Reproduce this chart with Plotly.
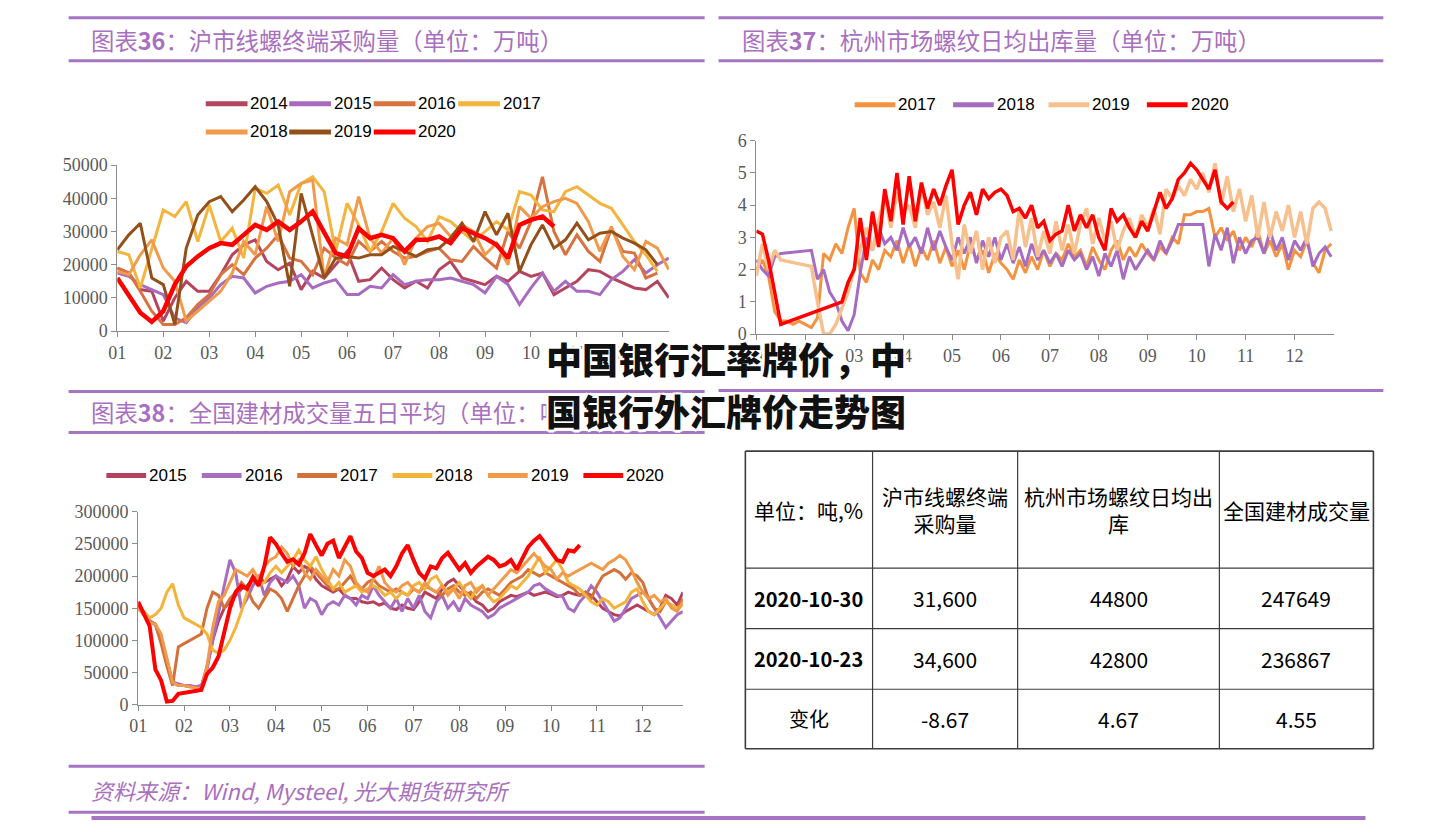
import numpy as np
import plotly.graph_objects as go

W, H = 1440, 830
PURPLE = "#A96FC0"
RULE = "#A675C2"
AXIS = "#8C8C8C"
TICK = "#595959"
CJK = "Noto Sans CJK SC"
NARROW = "Liberation Sans Narrow, Liberation Sans, sans-serif"
SERIF = "Liberation Serif, DejaVu Serif, serif"


def px(x):
    return x / W


def py(y):
    return 1 - y / H


months = ["01", "02", "03", "04", "05", "06", "07", "08", "09", "10", "11", "12"]

# ---- 图表36 沪市线螺终端采购量, weekly (4 per month), thousand tons
c36_2014 = [19, 17.5, 12.5, 12, 3, 10, 15, 12, 12, 17, 23, 26, 27.5, 21, 18.5, 20.5, 12.5, 18, 16, 20,
            24, 15, 15.5, 19, 15.5, 13, 15, 13, 18.5, 21, 16, 15, 14, 16.5, 15, 18, 16.5, 17.5, 11, 13,
            15, 18.5, 18, 16, 14.5, 13, 12.5, 15, 10]
c36_2015 = [17.5, 16.5, 14, 12.5, 11, 4, 2.5, 7, 10, 14, 16.5, 16, 11.5, 13.5, 14.5, 15, 17, 13, 14.5, 15.5,
            11, 11, 13.5, 13, 17, 14, 15, 15.5, 15.5, 16, 15, 14, 11.5, 16.5, 14, 8, 13, 17.5, 12, 15,
            12, 12, 11, 15.5, 18, 21.5, 17.5, 20, 22]
c36_2016 = [19, 17.5, 12, 6, 2, 2, 4, 8, 11, 17, 20, 17, 22, 25, 29, 22, 21, 17, 25, 22,
            20, 27, 24, 27, 24, 22, 22.5, 24, 25, 21.5, 21, 25.5, 22, 19, 30, 25, 33, 46.5, 30, 23,
            29, 24, 21, 31, 24, 23.5, 16, 17.5]
c36_2017 = [24, 23, 13, 25, 36.5, 34.5, 39, 27, 38, 27, 31, 22, 43, 41.5, 44, 35, 44.5, 46.5, 42, 24,
            38.5, 32, 24, 30, 38.5, 34, 31.5, 27, 34.5, 33, 30, 27, 30, 33, 30.5, 42, 41, 36.5, 36, 42,
            43.5, 41, 38.5, 37, 32, 27, 23, 18]
c36_2018 = [18, 17, 23, 27.5, 19, 15, 3, 6, 9, 12, 17.5, 27, 23, 37.5, 27, 42, 44.5, 45.5, 16, 28,
            26, 40.5, 28, 23.5, 28, 20, 28, 31.5, 32.5, 28.5, 32, 30, 23, 26.5, 20, 37.5, 34, 37.5, 39, 40,
            38.5, 33, 24, 31.5, 22.5, 18.5, 27, 25, 18.5]
c36_2019 = [24.5, 29, 32.5, 16, 14, 2, 25, 35, 39, 40.5, 36, 39.5, 43.5, 39, 32, 13.5, 41.5, 29, 16, 22,
            22.5, 22, 23, 23, 25.5, 24, 22.5, 24.5, 25, 28, 32.5, 27, 36, 29, 35.5, 18, 26, 32, 25, 27.5,
            32.5, 27.5, 29.5, 30, 28, 26.5, 24.5, 20]
c36_2020 = [16, 10.5, 5.5, 2.8, 6, 14, 19.5, 22.5, 25, 26.5, 26, 29, 32, 30.5, 33, 30.5, 33, 36, 30, 23.5,
            22.5, 31, 28, 29, 28, 24, 27.5, 27.5, 28.5, 26.5, 31, 29.5, 28, 26, 22, 32, 33.5, 34.5, 31.5]

# ---- 图表37 杭州市场螺纹日均出库量, 8 samples per month, None = no trading
c37_2017 = [2.0, 2.3, 1.8, 0.7, 0.4, 0.4, 0.3, 0.4,
            0.3, 0.2, 0.5, 2.5, 2.3, 2.8, 2.5, 3.3,
            3.9, 1.9, 1.6, 2.3, 2.0, 2.6, 2.4, 2.9,
            2.2, 2.8, 2.1, 2.7, 2.3, 2.9, 2.2, 2.7,
            2.1, 2.6, 2.0, 2.8, 2.3, 2.6, 1.9, 2.5,
            2.2, 2.0, 1.7, 2.3, 1.9, 2.4, 2.0, 2.6,
            2.1, 2.5, 2.3, 2.8, 2.4, 2.6, 2.1, 2.7,
            2.3, 2.0, 2.6, 2.9, 2.3, 2.7, 2.4, 2.8,
            2.5, 2.3, 2.7, 2.5, 3.0, 2.8, 3.7, 3.7,
            3.8, 3.8, 3.9, 3.0, 3.3, 2.9, 3.2, 2.6,
            3.0, 2.7, 3.2, 2.5, 2.9, 2.4, 2.8, 2.0,
            2.6, 2.4, 2.9, 2.2, 1.9, 2.6, 2.8]
c37_2018 = [2.3, 2.0, 1.8, 2.4, 2.5, None, None, None,
            None, 2.6, 1.7, 2.0, 1.3, 1.0, 0.4, 0.1,
            0.6, 1.9, 3.0, 2.6, 3.3, 2.8, 3.0, 2.6,
            3.3, 2.7, 3.0, 2.5, 3.3, 2.6, 3.2, 2.7,
            2.3, 3.0, 2.5, 3.0, 2.2, 2.9, 2.4, 3.0,
            2.3, 2.8, 2.2, 2.7, 2.1, 2.8, 2.3, 2.6,
            2.2, 2.5, 2.1, 2.6, 2.3, 2.5, 2.0, 2.4,
            1.8, 2.5, 2.1, 2.6, 1.7, 2.4, 2.0, 2.3,
            2.6, 2.3, 2.9, 2.5, 2.9, 3.4, 3.4, 3.4,
            3.4, 3.4, 2.1, 3.1, 2.6, 3.3, 2.2, 3.0,
            2.5, 2.9, 3.0, 2.5, 3.2, 2.6, 3.0, 2.3,
            2.9, 2.6, 3.0, 2.1, 2.5, 2.7, 2.4]
c37_2019 = [1.8, 2.8, 2.0, 2.6, 2.3, None, None, None,
            None, 2.1, 1.0, 0.0, 0.0, 0.3, 0.8, 1.3,
            2.0, 2.6, 3.3, 2.6, 3.5, 4.3, 3.3, 4.4,
            3.8, 4.0, 3.3, 4.6, 3.7, 4.1, 3.3, 4.3,
            2.8, 1.7, 3.4, 2.5, 3.2, 2.0, 3.0, 2.2,
            3.0, 3.2, 2.3, 3.9, 2.7, 3.6, 2.4, 3.2,
            2.5, 3.5, 2.6, 3.4, 2.5, 3.4, 3.9, 2.8,
            3.6, 2.9, 3.5, 2.6, 3.2, 3.6, 3.0, 3.7,
            3.3, 3.9, 3.1, 4.5, 4.2, 4.6, 4.3, 4.8,
            4.5, 5.0, 4.4, 5.3, 4.0, 4.9, 3.8, 4.5,
            3.5, 4.3, 3.0, 4.1, 3.0, 3.8, 3.2, 4.0,
            3.0, 3.8, 2.8, 3.9, 4.1, 3.9, 3.2]
c37_2020 = [3.2, 3.1, 2.3, 1.3, 0.3, None, None, None,
            None, None, None, None, None, None, 1.0, 1.6,
            2.0, 3.6, 2.3, 3.8, 2.7, 4.5, 3.5, 5.0,
            3.4, 4.9, 3.5, 4.7, 3.9, 4.5, 4.0, 4.6,
            5.1, 3.4, 4.0, 4.4, 3.7, 4.5, 4.2, 4.4,
            4.5, 4.3, 3.8, 3.9, 3.6, 4.0, 3.3, 3.5,
            2.9, 3.1, 3.2, 4.0, 3.2, 3.7, 3.3, 3.7,
            3.0, 2.6, 3.9, 3.5, 3.7, 3.3, 3.0, 3.5,
            3.2, 3.8, 4.4, 3.9, 4.2, 4.8, 5.0, 5.3,
            5.1, 4.8, 4.5, 5.1, 4.1, 3.9, 4.1]

# ---- 图表38 全国建材成交量五日平均, 8 samples per month, thousand tons
c38_2015 = [150, 140, 130, 125, 100, 70, 35, 30,
            30, 28, 27, 27, 60, 100, 130, 150,
            160, 170, 180, 185, 195, 200, 190, 195,
            200, 185, 195, 215, 205, 215, 210, 195,
            185, 180, 175, 180, 170, 165, 165, 160,
            158, 160, 155, 158, 150, 148, 155, 150,
            148, 160, 175, 170, 165, 180, 190, 195,
            185, 175, 170, 160, 155, 145, 150, 160,
            165, 170, 168, 172, 175, 170, 172, 175,
            172, 168, 170, 175, 172, 170, 175, 170,
            160, 150, 145, 140, 138, 145, 150, 155,
            150, 145, 140, 150, 170, 165, 155, 175]
c38_2016 = [155, 140, 130, 125, 100, 65, 35, 32,
            30, 30, 28, 30, 55, 100, 145, 185,
            225, 205, 150, 165, 185, 200, 170, 190,
            200, 195, 190, 200, 185, 150, 165, 160,
            140, 155, 160, 155, 170, 165, 155, 170,
            165, 185, 170, 160, 150, 165, 145, 165,
            150, 170, 145, 135, 160, 170, 150, 160,
            145, 165, 155, 150, 145, 135, 140, 150,
            155, 160, 165, 170, 175, 185, 188, 180,
            175, 170, 168, 150, 145, 160, 170, 185,
            175, 160, 145, 130, 135, 150, 165, 170,
            175, 165, 150, 135, 120, 130, 140, 145]
c38_2017 = [155, 140, 130, 125, 95, 60, 30, 90,
            95, 100, 105, 110, 150, 175, 170, 150,
            165, 175, 190, 180, 160, 150, 165, 180,
            175, 165, 145, 165, 185, 200, 215, 205,
            195, 185, 178, 180, 190, 200, 185, 180,
            190, 195, 185, 180, 175, 180, 175, 170,
            180, 175, 185, 180, 175, 170, 180, 185,
            175, 170, 175, 165, 175, 180, 175, 170,
            180, 190, 195, 200, 210, 205, 200, 205,
            200, 195, 190, 185, 180, 170, 175, 165,
            185, 200, 205, 210, 205, 195, 205, 200,
            190, 165, 150, 145, 160, 155, 150, 165]
c38_2018 = [150, 145, 135, 140, 150, 175, 188, 155,
            135, 130, 125, 120, 110, 85, 80, 85,
            100, 120, 145, 175, 200, 185, 190, 205,
            215, 205, 215, 225, 240, 225, 215, 230,
            210, 195, 180, 190, 175, 180, 185, 175,
            180, 185, 180, 170, 175, 165, 175, 170,
            185, 190, 180, 195, 200, 185, 175, 180,
            190, 175, 165, 180, 185, 170, 160, 165,
            175, 185, 180, 190, 200, 215, 230, 205,
            215, 225, 210, 190, 185, 180, 170, 160,
            155, 165, 160, 150, 155, 160, 175, 180,
            160, 145, 140, 150, 160, 155, 150, 155]
c38_2019 = [150, 140, 128, 125, 110, 70, 35, 30,
            30, 28, 27, 25, 60, 120, 160, 170,
            190, 210, 205, 200, 210, 195, 215, 225,
            230, 245, 235, 215, 225, 205, 195, 210,
            200, 190, 210, 200, 225, 215, 190, 180,
            175, 195, 215, 190, 180, 175, 185, 190,
            180, 175, 190, 180, 175, 185, 170, 180,
            165, 185, 190, 175, 185, 170, 180, 190,
            200, 210, 205, 215, 225, 235, 225, 215,
            210, 195, 205, 200, 205, 210, 215, 220,
            215, 210, 220, 225, 232, 225, 210, 190,
            175, 165, 170, 160, 165, 150, 145, 160]
c38_2020 = [160, 140, 122, 55, 38, 5, 6, 17,
            None, None, None, 23, 48, 58, 75, 115,
            150, 175, 185, 180, 198, 185, 215, 260,
            250, 235, 222, 226, 218, 235, 265, 248,
            232, 250, 255, 228, 245, 262, 238, 228,
            205, 200, 205, 210, 200, 215, 235, 248,
            225, 205, 196, 215, 212, 228, 236, 222,
            210, 220, 205, 215, 222, 230, 225, 215,
            218, 225, 210, 228, 245, 255, 262, 250,
            238, 225, 222, 240, 238, 248]

# ---- table
tbl_header = ["单位：吨,%", "沪市线螺终端<br>采购量", "杭州市场螺纹日均出<br>库", "全国建材成交量"]
tbl_dates = ["2020-10-30", "2020-10-23", "变化"]
tbl_c36 = ["31,600", "34,600", "-8.67"]
tbl_c37 = ["44800", "42800", "4.67"]
tbl_c38 = ["247649", "236867", "4.55"]

chart36 = [("2014", c36_2014, "#B5455F", 3), ("2015", c36_2015, "#A86BBE", 3),
           ("2016", c36_2016, "#D8733F", 3), ("2017", c36_2017, "#F3B53E", 3),
           ("2018", c36_2018, "#F29A4C", 3), ("2019", c36_2019, "#93501A", 3),
           ("2020", c36_2020, "#FF0000", 4.5)]
chart37 = [("2017", c37_2017, "#F4933F", 3), ("2018", c37_2018, "#A56CC1", 3),
           ("2019", c37_2019, "#F7C08F", 3.5), ("2020", c37_2020, "#FF0000", 3.5)]
chart38 = [("2015", c38_2015, "#B5405D", 3), ("2016", c38_2016, "#A86CC1", 3),
           ("2017", c38_2017, "#D4703A", 3), ("2018", c38_2018, "#F4B33A", 3),
           ("2019", c38_2019, "#F09A4A", 3), ("2020", c38_2020, "#FF0000", 4)]

fig = go.Figure()


def add_lines(series, xa, ya, step):
    for name, vals, color, width in series:
        fig.add_trace(go.Scatter(
            x=np.arange(len(vals)) * step, y=vals, name=name, mode="lines",
            line=dict(color=color, width=width), connectgaps=True,
            xaxis=xa, yaxis=ya, showlegend=False, hoverinfo="skip"))


add_lines(chart36, "x", "y", 0.25)
add_lines(chart37, "x2", "y2", 0.125)
add_lines(chart38, "x3", "y3", 0.125)

ax = dict(showgrid=False, zeroline=False, showline=True, linecolor=AXIS, linewidth=1,
          ticks="outside", ticklen=5, tickcolor=AXIS,
          tickfont=dict(family=SERIF, size=18, color=TICK))

fig.update_layout(
    autosize=True, margin=dict(l=0, r=0, t=0, b=0),
    paper_bgcolor="white", plot_bgcolor="white", showlegend=False,
    xaxis=dict(domain=[px(109), px(664)], range=[0, 12], tickvals=list(range(12)),
               ticktext=months, anchor="y", **ax),
    yaxis=dict(domain=[py(329), py(159)], range=[0, 50], tickvals=[0, 10, 20, 30, 40, 50],
               ticktext=["0", "10000", "20000", "30000", "40000", "50000"], anchor="x", **ax),
    xaxis2=dict(domain=[px(752), px(1333)], range=[0, 11.8], tickvals=list(range(12)),
                ticktext=months, anchor="y2", **ax),
    yaxis2=dict(domain=[py(332), py(134)], range=[0, 6], tickvals=list(range(7)),
                anchor="x2", **ax),
    xaxis3=dict(domain=[px(130), px(678)], range=[0, 11.87], tickvals=list(range(12)),
                ticktext=months, anchor="y3", **ax),
    yaxis3=dict(domain=[py(712), py(514)], range=[0, 300], tickvals=[0, 50, 100, 150, 200, 250, 300],
                ticktext=["0", "50000", "100000", "150000", "200000", "250000", "300000"],
                anchor="x3", **ax),
)

shapes = []
annos = []


def hline(x0, x1, y, color=RULE, width=3):
    shapes.append(dict(type="line", xref="paper", yref="paper", x0=px(x0), x1=px(x1),
                       y0=py(y), y1=py(y), line=dict(color=color, width=width)))


def vline(x, y0, y1, color, width):
    shapes.append(dict(type="line", xref="paper", yref="paper", x0=px(x), x1=px(x),
                       y0=py(y0), y1=py(y1), line=dict(color=color, width=width)))


def text(x, y, s, size, color="#000", family=CJK, xanchor="left", **font_extra):
    annos.append(dict(xref="paper", yref="paper", x=px(x), y=py(y), text=s, showarrow=False,
                      xanchor=xanchor, yanchor="middle", align="center",
                      font=dict(family=family, size=size, color=color, **font_extra)))


# section rules and titles
hline(60, 700, 8)
hline(60, 700, 52)
hline(714, 1383, 8)
hline(714, 1383, 52)
hline(60, 700, 391)
hline(714, 1383, 390)
hline(60, 700, 433)
hline(60, 700, 775)
hline(60, 700, 822)
shapes.append(dict(type="rect", xref="paper", yref="paper", x0=px(83), x1=px(1365),
                   y0=py(830), y1=py(826), line=dict(width=0), fillcolor=RULE))

text(80, 31, "图表<b>36</b>：沪市线螺终端采购量（单位：万吨）", 23.4, PURPLE)
text(736, 31, "图表<b>37</b>：杭州市场螺纹日均出库量（单位：万吨）", 23.4, PURPLE)
text(80, 412, "图表<b>38</b>：全国建材成交量五日平均（单位：吨）", 23.4, PURPLE)
text(80, 799, "资料来源：Wind, Mysteel, 光大期货研究所", 22, PURPLE, style="italic")

# legends
legend_pos = {
    "36": ([198, 282, 367, 452, 198, 282, 367], [96, 96, 96, 96, 125, 125, 125], 42, 17),
    "37": ([851, 950, 1046, 1145], [97, 97, 97, 97], 41, 17),
    "38": ([98, 194, 290, 386, 482, 578], [477] * 6, 40, 17),
}
for key, series in (("36", chart36), ("37", chart37), ("38", chart38)):
    xs, ys, sw, fs = legend_pos[key]
    for (name, _, color, _), x0, y0 in zip(series, xs, ys):
        shapes.append(dict(type="line", xref="paper", yref="paper", x0=px(x0), x1=px(x0 + sw),
                           y0=py(y0), y1=py(y0), line=dict(color=color, width=5)))
        text(x0 + sw + 1, y0, name, fs, "#000", NARROW)

# table grid
tx = [741, 869, 1015, 1218, 1373]
ty = [452, 572, 634, 696, 757]
for i, yv in enumerate(ty):
    hline(tx[0], tx[-1], yv, "#3C3C3C", 1.6 if i in (0, len(ty) - 1) else 1.2)
for i, xv in enumerate(tx):
    vline(xv, ty[0], ty[-1], "#3C3C3C", 1.6 if i in (0, len(tx) - 1) else 1.2)

centers = [(tx[i] + tx[i + 1]) / 2 for i in range(4)]
rows_y = [(ty[i] + ty[i + 1]) / 2 for i in range(4)]
for c, h in zip(centers, tbl_header):
    text(c, rows_y[0], h, 21, xanchor="center")
for r in range(3):
    label = tbl_dates[r] if r == 2 else "<b>" + tbl_dates[r] + "</b>"
    text(centers[0], rows_y[r + 1], label, 20, xanchor="center")
    text(centers[1], rows_y[r + 1], tbl_c36[r], 21, xanchor="center")
    text(centers[2], rows_y[r + 1], tbl_c37[r], 21, xanchor="center")
    text(centers[3], rows_y[r + 1], tbl_c38[r], 21, xanchor="center")

# overlay headline
halo = "2px 2px 0 #fff, -2px -2px 0 #fff, 2px -2px 0 #fff, -2px 2px 0 #fff, 0 3px 0 #fff, 3px 0 0 #fff"
text(538, 357, "中国银行汇率牌价，中", 36, "#111", weight=900, shadow=halo)
text(538, 410, "国银行外汇牌价走势图", 36, "#111", weight=900, shadow=halo)

fig.update_layout(shapes=shapes, annotations=annos)
fig.write_html(
    "out.html",
    default_width="100vw", default_height="100vh",
    config={"displayModeBar": False, "responsive": True},
    post_script=(
        "document.documentElement.style.margin='0';document.body.style.margin='0';"
        "document.body.style.padding='0';document.documentElement.style.overflow='hidden';"
        "document.body.style.overflow='hidden';"
        "var gd=document.getElementById('{plot_id}');"
        "gd.style.position='fixed';gd.style.left='0';gd.style.top='0';"
        "gd.style.width='100vw';gd.style.height='100vh';"
        "Plotly.Plots.resize(gd);"))
